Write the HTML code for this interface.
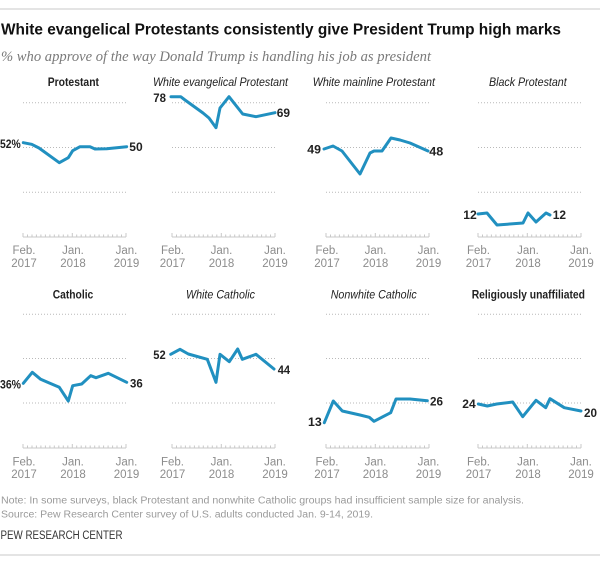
<!DOCTYPE html>
<html><head><meta charset="utf-8"><style>
html,body{margin:0;padding:0;background:#fff;}
svg{display:block;}
text{font-family:"Liberation Sans",Arial,sans-serif;}
.t{font-weight:bold;fill:#111;}
.sub{font-family:"Liberation Serif",serif;font-style:italic;fill:#7a7a7a;}
.pt{font-size:11.5px;fill:#222;}
.b{font-weight:bold;}
.i{font-style:italic;}
.v{font-size:12px;font-weight:bold;fill:#222;}
.tk{font-size:11.5px;fill:#8c8c8c;}
.g{stroke:#b9b9b9;stroke-width:1;stroke-dasharray:1 2;fill:none;}
.ax{stroke:#c8c8c8;stroke-width:1;fill:none;}
.ln{stroke:#2190c0;stroke-width:3;fill:none;stroke-linejoin:round;stroke-linecap:round;}
.ft{font-size:10px;fill:#9a9a9a;}
</style></head><body>
<svg width="600" height="565" viewBox="0 0 600 565" xmlns="http://www.w3.org/2000/svg">
<rect width="600" height="565" fill="#fff"/>
<line x1="0" y1="9" x2="600" y2="9" stroke="#dcdcdc" stroke-width="1.5"/>
<text class="t" x="1" y="34.5" font-size="16" textLength="560" lengthAdjust="spacingAndGlyphs">White evangelical Protestants consistently give President Trump high marks</text>
<text class="sub" x="1" y="61" font-size="14.5" textLength="430" lengthAdjust="spacingAndGlyphs">% who approve of the way Donald Trump is handling his job as president</text>

<text class="pt b" x="47.7" y="86" textLength="51.3" lengthAdjust="spacingAndGlyphs">Protestant</text>
<text class="pt i" x="153" y="86" textLength="135" lengthAdjust="spacingAndGlyphs">White evangelical Protestant</text>
<text class="pt i" x="312.7" y="86" textLength="122.3" lengthAdjust="spacingAndGlyphs">White mainline Protestant</text>
<text class="pt i" x="489" y="86" textLength="77.7" lengthAdjust="spacingAndGlyphs">Black Protestant</text>
<text class="pt b" x="52.7" y="298.5" textLength="40.6" lengthAdjust="spacingAndGlyphs">Catholic</text>
<text class="pt i" x="186" y="298.5" textLength="69" lengthAdjust="spacingAndGlyphs">White Catholic</text>
<text class="pt i" x="330.7" y="298.5" textLength="86" lengthAdjust="spacingAndGlyphs">Nonwhite Catholic</text>
<text class="pt b" x="471.7" y="298.5" textLength="113.3" lengthAdjust="spacingAndGlyphs">Religiously unaffiliated</text>

<g id="grids">
<path class="g" d="M23 102.7H126 M23 147.5H126 M23 192.3H126"/>
<path class="g" d="M172 102.7H275 M172 147.5H275 M172 192.3H275"/>
<path class="g" d="M326 102.7H429 M326 147.5H429 M326 192.3H429"/>
<path class="g" d="M478 102.7H581 M478 147.5H581 M478 192.3H581"/>
<path class="g" d="M23 314.3H126 M23 358.5H126 M23 403H126"/>
<path class="g" d="M172 314.3H275 M172 358.5H275 M172 403H275"/>
<path class="g" d="M326 314.3H429 M326 358.5H429 M326 403H429"/>
<path class="g" d="M478 314.3H581 M478 358.5H581 M478 403H581"/>
</g>

<g id="axes">
<path class="ax" d="
M23 237H126 M172 237H275 M326 237H429 M478 237H581
M23 448H126 M172 448H275 M326 448H429 M478 448H581"/>
<path class="ax" stroke-width="0.8" d="
M23 233V237 M27.5 234.5V237 M32 234.5V237 M36.4 234.5V237 M40.9 234.5V237 M45.4 234.5V237 M49.9 234.5V237 M54.3 234.5V237 M58.8 234.5V237 M63.3 234.5V237 M67.8 234.5V237 M72.3 233V237 M76.7 234.5V237 M81.2 234.5V237 M85.7 234.5V237 M90.2 234.5V237 M94.7 234.5V237 M99.1 234.5V237 M103.6 234.5V237 M108.1 234.5V237 M112.6 234.5V237 M117 234.5V237 M121.5 234.5V237 M126 233V237
M172 233V237 M176.5 234.5V237 M181 234.5V237 M185.4 234.5V237 M189.9 234.5V237 M194.4 234.5V237 M198.9 234.5V237 M203.3 234.5V237 M207.8 234.5V237 M212.3 234.5V237 M216.8 234.5V237 M221.3 233V237 M225.7 234.5V237 M230.2 234.5V237 M234.7 234.5V237 M239.2 234.5V237 M243.7 234.5V237 M248.1 234.5V237 M252.6 234.5V237 M257.1 234.5V237 M261.6 234.5V237 M266 234.5V237 M270.5 234.5V237 M275 233V237
M326 233V237 M330.5 234.5V237 M335 234.5V237 M339.4 234.5V237 M343.9 234.5V237 M348.4 234.5V237 M352.9 234.5V237 M357.3 234.5V237 M361.8 234.5V237 M366.3 234.5V237 M370.8 234.5V237 M375.3 233V237 M379.7 234.5V237 M384.2 234.5V237 M388.7 234.5V237 M393.2 234.5V237 M397.7 234.5V237 M402.1 234.5V237 M406.6 234.5V237 M411.1 234.5V237 M415.6 234.5V237 M420 234.5V237 M424.5 234.5V237 M429 233V237
M478 233V237 M482.5 234.5V237 M487 234.5V237 M491.4 234.5V237 M495.9 234.5V237 M500.4 234.5V237 M504.9 234.5V237 M509.3 234.5V237 M513.8 234.5V237 M518.3 234.5V237 M522.8 234.5V237 M527.3 233V237 M531.7 234.5V237 M536.2 234.5V237 M540.7 234.5V237 M545.2 234.5V237 M549.7 234.5V237 M554.1 234.5V237 M558.6 234.5V237 M563.1 234.5V237 M567.6 234.5V237 M572 234.5V237 M576.5 234.5V237 M581 233V237
"/>
<path class="ax" stroke-width="0.8" transform="translate(0,211)" d="
M23 233V237 M27.5 234.5V237 M32 234.5V237 M36.4 234.5V237 M40.9 234.5V237 M45.4 234.5V237 M49.9 234.5V237 M54.3 234.5V237 M58.8 234.5V237 M63.3 234.5V237 M67.8 234.5V237 M72.3 233V237 M76.7 234.5V237 M81.2 234.5V237 M85.7 234.5V237 M90.2 234.5V237 M94.7 234.5V237 M99.1 234.5V237 M103.6 234.5V237 M108.1 234.5V237 M112.6 234.5V237 M117 234.5V237 M121.5 234.5V237 M126 233V237
M172 233V237 M176.5 234.5V237 M181 234.5V237 M185.4 234.5V237 M189.9 234.5V237 M194.4 234.5V237 M198.9 234.5V237 M203.3 234.5V237 M207.8 234.5V237 M212.3 234.5V237 M216.8 234.5V237 M221.3 233V237 M225.7 234.5V237 M230.2 234.5V237 M234.7 234.5V237 M239.2 234.5V237 M243.7 234.5V237 M248.1 234.5V237 M252.6 234.5V237 M257.1 234.5V237 M261.6 234.5V237 M266 234.5V237 M270.5 234.5V237 M275 233V237
M326 233V237 M330.5 234.5V237 M335 234.5V237 M339.4 234.5V237 M343.9 234.5V237 M348.4 234.5V237 M352.9 234.5V237 M357.3 234.5V237 M361.8 234.5V237 M366.3 234.5V237 M370.8 234.5V237 M375.3 233V237 M379.7 234.5V237 M384.2 234.5V237 M388.7 234.5V237 M393.2 234.5V237 M397.7 234.5V237 M402.1 234.5V237 M406.6 234.5V237 M411.1 234.5V237 M415.6 234.5V237 M420 234.5V237 M424.5 234.5V237 M429 233V237
M478 233V237 M482.5 234.5V237 M487 234.5V237 M491.4 234.5V237 M495.9 234.5V237 M500.4 234.5V237 M504.9 234.5V237 M509.3 234.5V237 M513.8 234.5V237 M518.3 234.5V237 M522.8 234.5V237 M527.3 233V237 M531.7 234.5V237 M536.2 234.5V237 M540.7 234.5V237 M545.2 234.5V237 M549.7 234.5V237 M554.1 234.5V237 M558.6 234.5V237 M563.1 234.5V237 M567.6 234.5V237 M572 234.5V237 M576.5 234.5V237 M581 233V237
"/>
</g>

<g class="tk" text-anchor="middle">
<text x="24" y="254">Feb.</text><text x="24" y="267">2017</text>
<text x="73" y="254">Jan.</text><text x="73" y="267">2018</text>
<text x="126.5" y="254">Jan.</text><text x="126.5" y="267">2019</text>
<text x="172.5" y="254">Feb.</text><text x="172.5" y="267">2017</text>
<text x="221.5" y="254">Jan.</text><text x="221.5" y="267">2018</text>
<text x="275" y="254">Jan.</text><text x="275" y="267">2019</text>
<text x="327" y="254">Feb.</text><text x="327" y="267">2017</text>
<text x="375.5" y="254">Jan.</text><text x="375.5" y="267">2018</text>
<text x="428.5" y="254">Jan.</text><text x="428.5" y="267">2019</text>
<text x="478.5" y="254">Feb.</text><text x="478.5" y="267">2017</text>
<text x="528" y="254">Jan.</text><text x="528" y="267">2018</text>
<text x="581" y="254">Jan.</text><text x="581" y="267">2019</text>
</g>
<g class="tk" text-anchor="middle">
<text x="24" y="465.5">Feb.</text><text x="24" y="478">2017</text>
<text x="73" y="465.5">Jan.</text><text x="73" y="478">2018</text>
<text x="126.5" y="465.5">Jan.</text><text x="126.5" y="478">2019</text>
<text x="172.5" y="465.5">Feb.</text><text x="172.5" y="478">2017</text>
<text x="221.5" y="465.5">Jan.</text><text x="221.5" y="478">2018</text>
<text x="275" y="465.5">Jan.</text><text x="275" y="478">2019</text>
<text x="327" y="465.5">Feb.</text><text x="327" y="478">2017</text>
<text x="375.5" y="465.5">Jan.</text><text x="375.5" y="478">2018</text>
<text x="428.5" y="465.5">Jan.</text><text x="428.5" y="478">2019</text>
<text x="478.5" y="465.5">Feb.</text><text x="478.5" y="478">2017</text>
<text x="528" y="465.5">Jan.</text><text x="528" y="478">2018</text>
<text x="581" y="465.5">Jan.</text><text x="581" y="478">2019</text>
</g>

<polyline class="ln" points="23.3,142.7 31.7,144.3 39,148 59.3,162.7 68.3,157.7 72.7,150.7 80,146.7 90,146.7 95,149 106.7,148.7 126.7,146.7"/>
<polyline class="ln" points="171,96.7 180.7,96.7 185,100 203,113 209,118 216,127.7 220,108 229,96.7 242.7,114 256,116.7 275,112.7"/>
<polyline class="ln" points="324,149 333,146 342,151 360,174 370,153 374,151 382,151 391,138 400,140 410,143 428,151"/>
<polyline class="ln" points="478,214 487,213 497,225 523,223 528,213 536,222 546,213 550,215"/>

<polyline class="ln" points="23.3,383.3 32.3,372.3 40.7,379.3 59.3,387.3 68.3,401 72.7,385.7 81.7,384 90.7,375.7 96,377.7 108.3,373.3 126.7,382.3"/>
<polyline class="ln" points="170.7,354.3 180,349.3 188.3,354 207.3,359.3 216,382.3 220,354.3 229.3,361.7 237.7,349 242.3,359.3 256,354.3 274,369"/>
<polyline class="ln" points="324.3,422.7 333.3,401 342.3,411 360,415 369.3,417.3 374,421.3 390.7,412.7 396,399 410,399 427.3,400.7"/>
<polyline class="ln" points="478.3,404 487.3,406 496.7,404 512.7,402 522.7,416.7 536,400.3 545.7,407.7 550,398.7 564.3,407.7 581,411"/>

<g class="v">
<text x="0" y="147.8" textLength="20.7" lengthAdjust="spacingAndGlyphs">52%</text>
<text x="129.3" y="151.2" textLength="13.4" lengthAdjust="spacingAndGlyphs">50</text>
<text x="153.3" y="101.8" textLength="12.7" lengthAdjust="spacingAndGlyphs">78</text>
<text x="276.7" y="117.2" textLength="13.3" lengthAdjust="spacingAndGlyphs">69</text>
<text x="307.3" y="153.5" textLength="13.7" lengthAdjust="spacingAndGlyphs">49</text>
<text x="429.3" y="155.5" textLength="14" lengthAdjust="spacingAndGlyphs">48</text>
<text x="463.3" y="218.8" textLength="13.5" lengthAdjust="spacingAndGlyphs">12</text>
<text x="552.7" y="218.8" textLength="13.3" lengthAdjust="spacingAndGlyphs">12</text>
<text x="0" y="388.5" textLength="21" lengthAdjust="spacingAndGlyphs">36%</text>
<text x="130" y="387.5" textLength="12.7" lengthAdjust="spacingAndGlyphs">36</text>
<text x="153.3" y="358.8" textLength="12.4" lengthAdjust="spacingAndGlyphs">52</text>
<text x="277.7" y="373.8" textLength="12.3" lengthAdjust="spacingAndGlyphs">44</text>
<text x="308" y="426.2" textLength="13.7" lengthAdjust="spacingAndGlyphs">13</text>
<text x="430" y="405.5" textLength="13" lengthAdjust="spacingAndGlyphs">26</text>
<text x="462.3" y="407.8" textLength="13.4" lengthAdjust="spacingAndGlyphs">24</text>
<text x="584" y="417.2" textLength="13" lengthAdjust="spacingAndGlyphs">20</text>
</g>

<text class="ft" x="1" y="503.3" textLength="523" lengthAdjust="spacingAndGlyphs">Note: In some surveys, black Protestant and nonwhite Catholic groups had insufficient sample size for analysis.</text>
<text class="ft" x="1" y="517.5" textLength="372" lengthAdjust="spacingAndGlyphs">Source: Pew Research Center survey of U.S. adults conducted Jan. 9-14, 2019.</text>
<text x="0.5" y="539" font-size="11.5" fill="#333" textLength="122" lengthAdjust="spacingAndGlyphs">PEW RESEARCH CENTER</text>
<line x1="0" y1="555" x2="600" y2="555" stroke="#dcdcdc" stroke-width="1.5"/>
</svg>
</body></html>
